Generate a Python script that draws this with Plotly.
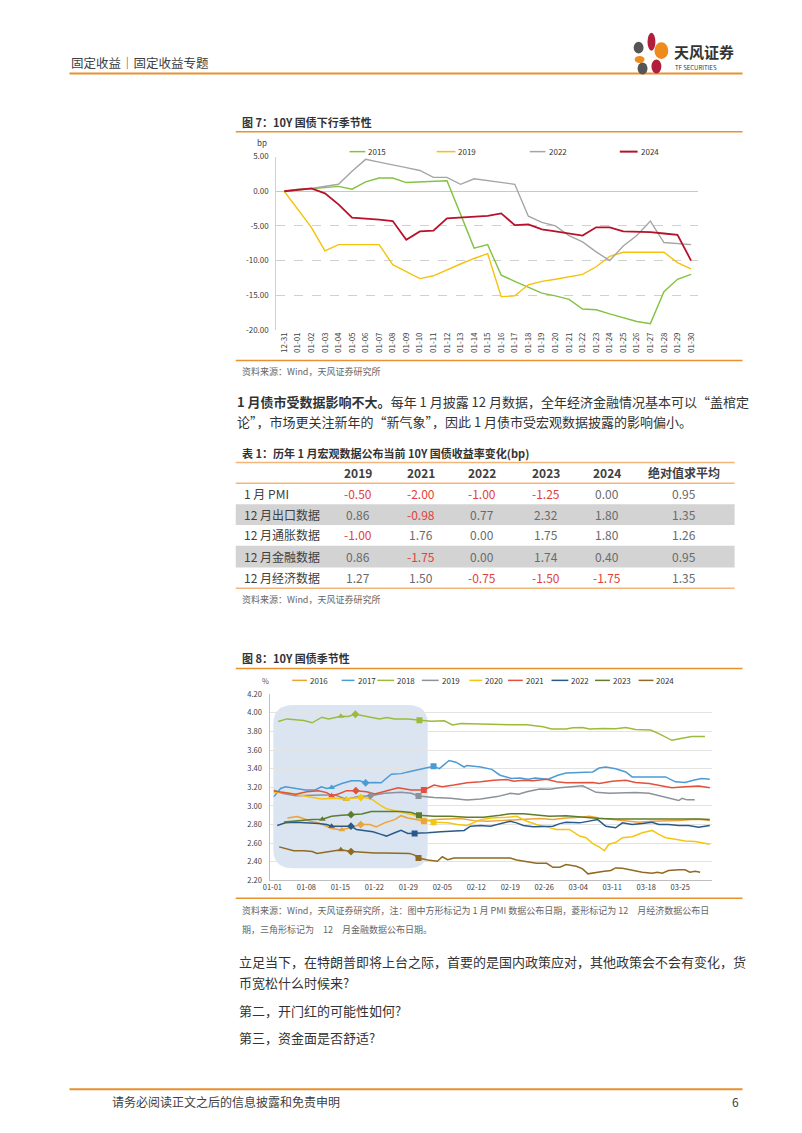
import plotly.graph_objects as go

# The page is 802x1133; the browser's default 8px body margin is compensated for by
# making the figure 16px smaller and mapping page pixels into figure paper coordinates.
PAGE_W, PAGE_H, OFF = 802, 1133, 8
W, H = PAGE_W - 2 * OFF, PAGE_H - 2 * OFF
FONT = "Noto Sans CJK SC"


def X(px):
    return (px - OFF) / W


def Y(py):
    return 1 - (py - OFF) / H


# ---------------- Figure 7 data (bp) ----------------
c7_dates = ["12-31"] + ["01-%02d" % d for d in range(1, 31)]
y2015 = [0, 0.2, 0.4, 0.6, 0.7, 0.3, 1.35, 1.9, 1.9, 1.25, 1.35, 1.45, 1.5, -3.3, -8.2, -7.7,
         -12.1, -13.0, -13.8, -14.7, -15.1, -15.6, -17.0, -17.1, -17.7, -18.3, -18.8, -19.1,
         -14.5, -12.7, -12.0]
y2019 = [0, -2.6, -5.2, -8.6, -7.7, -7.7, -7.7, -7.7, -10.6, -11.6, -12.6, -12.2, -11.3, -10.5,
         -9.7, -9.0, -15.2, -15.1, -13.5, -13.0, -12.7, -12.3, -12.0, -10.9, -9.4, -8.8, -8.8,
         -8.8, -8.8, -10.3, -11.2]
y2022 = [0, 0.3, 0.4, 0.7, 1.0, 2.9, 4.6, 4.2, 3.75, 3.4, 3.0, 2.0, 2.0, 1.0, 1.8, 1.5, 1.25,
         1.0, -3.6, -4.5, -5.0, -6.4, -7.3, -8.75, -10.0, -7.9, -6.4, -4.3, -7.4, -7.6, -7.7]
y2024 = [0, 0.2, 0.4, -0.3, -1.9, -3.8, -3.9, -4.1, -4.3, -7.0, -5.8, -5.7, -3.9, -3.8, -3.65,
         -3.55, -3.2, -4.9, -4.8, -5.5, -5.8, -6.1, -6.4, -5.2, -5.2, -5.8, -5.8, -5.9, -6.1,
         -6.3, -10.0]
c7_yticks = [5, 0, -5, -10, -15, -20]

# ---------------- Table 1 data ----------------
tbl_cols = ["2019", "2021", "2022", "2023", "2024", "绝对值求平均"]
tbl_rows = ["1 月 PMI", "12 月出口数据", "12 月通胀数据", "12 月金融数据", "12 月经济数据"]
row_pmi = [-0.50, -2.00, -1.00, -1.25, 0.00, 0.95]
row_export = [0.86, -0.98, 0.77, 2.32, 1.80, 1.35]
row_cpi = [-1.00, 1.76, 0.00, 1.75, 1.80, 1.26]
row_fin = [0.86, -1.75, 0.00, 1.74, 0.40, 0.95]
row_econ = [1.27, 1.50, -0.75, -1.50, -1.75, 1.35]

# ---------------- Figure 8 data (%; x = day of year, 0 = 01-01) ----------------
d2016 = [3.1, 5.1, 6.1, 7.8, 9.5, 11.2, 12.2, 13.6, 14.3, 16, 18.2, 20.1, 21.4, 23.1, 25.2, 26.5,
         27.9, 29.6, 31.2, 33.3, 36.1, 38.8, 41.5, 44.2, 46.9, 49.7, 52.4, 55.1, 57.8, 60.5, 63.3,
         65.3, 67.3, 70, 72.8, 75.5, 78.2, 81, 83.7, 86.4, 88.4, 90.1]
v2016 = [2.87, 2.885, 2.87, 2.835, 2.818, 2.782, 2.758, 2.747, 2.744, 2.765, 2.80, 2.80, 2.775,
         2.818, 2.853, 2.895, 2.87, 2.853, 2.835, 2.853, 2.86, 2.864, 2.842, 2.835, 2.842, 2.85,
         2.853, 2.864, 2.853, 2.87, 2.878, 2.888, 2.87, 2.853, 2.835, 2.825, 2.835, 2.835, 2.842,
         2.853, 2.853, 2.842]
d2017 = [0.3, 1.7, 2.7, 4.8, 6.8, 8.8, 10.1, 11.2, 12.2, 14.3, 16.3, 18, 19.2, 21.1, 22.4, 24.5,
         26.5, 28.6, 30.6, 33.2, 34.4, 36.4, 37.8, 39.5, 40.1, 42.9, 45.2, 46.9, 49.3, 51, 52.7,
         54.1, 56.8, 58.8, 60.5, 63.9, 66, 67.3, 68.7, 70.7, 72.8, 74.1, 77.6, 81, 83, 85, 86.7,
         88.4, 90.1]
v2017 = [3.10, 3.188, 3.206, 3.188, 3.171, 3.171, 3.206, 3.188, 3.199, 3.241, 3.27, 3.27, 3.248,
         3.252, 3.248, 3.34, 3.347, 3.372, 3.397, 3.425, 3.40, 3.488, 3.47, 3.418, 3.435, 3.418,
         3.393, 3.33, 3.294, 3.30, 3.287, 3.30, 3.287, 3.33, 3.354, 3.365, 3.365, 3.407, 3.418,
         3.40, 3.365, 3.312, 3.312, 3.312, 3.259, 3.252, 3.276, 3.294, 3.287]
d2018 = [1.2, 3, 6.5, 8.2, 10.2, 11.6, 14.1, 15.6, 17.1, 19.7, 22.1, 23.5, 25.2, 27.9, 30.3, 32.7,
         35.4, 37.1, 38.8, 42.2, 45.6, 49, 52.4, 54.1, 55.8, 57.5, 60.5, 61.9, 63.9, 65.3, 68,
         70.7, 72.8, 74.8, 77.9, 79.6, 81, 82.3, 84.4, 86.4, 89.1]
v2018 = [3.907, 3.935, 3.918, 3.893, 3.953, 3.935, 3.963, 3.96, 3.985, 3.96, 3.935, 3.95, 3.935,
         3.935, 3.92, 3.91, 3.915, 3.87, 3.885, 3.88, 3.87, 3.873, 3.873, 3.865, 3.85, 3.826,
         3.826, 3.84, 3.843, 3.826, 3.833, 3.83, 3.843, 3.82, 3.816, 3.777, 3.74, 3.705, 3.727,
         3.745, 3.745]
d2019 = [0.3, 2, 4.8, 7.5, 10.2, 12.9, 15.2, 17.7, 20.2, 23.1, 26.5, 28.6, 30.1, 33.3, 36.7, 40.1,
         42.9, 46.3, 49, 50.7, 52.4, 55.1, 57.1, 59.2, 61.9, 63.9, 65.3, 66.7, 69.4, 72.1, 74.8,
         77.6, 79.6, 81.6, 83.7, 84.4, 85.4, 87]
v2019 = [3.17, 3.135, 3.11, 3.118, 3.118, 3.118, 3.072, 3.10, 3.11, 3.135, 3.146, 3.135, 3.107,
         3.09, 3.082, 3.065, 3.075, 3.10, 3.135, 3.125, 3.153, 3.181, 3.178, 3.195, 3.206, 3.217,
         3.181, 3.146, 3.135, 3.143, 3.143, 3.135, 3.11, 3.09, 3.058, 3.082, 3.065, 3.065]
d2020 = [0.3, 2.7, 5.4, 8.2, 10.2, 12.9, 15.3, 16.3, 19, 20.7, 22.1, 23.5, 25.2, 27.2, 29.3, 30.3,
         31.3, 33.2, 36.1, 38.1, 40.1, 42.9, 45.2, 48.3, 50.3, 52.4, 54.4, 56.5, 58.5, 61.2, 63.3,
         64.6, 66, 67.3, 68.4, 69.3, 70.7, 72.1, 74.1, 76.2, 78.2, 79.6, 81, 83, 85, 87.1, 90.1]
v2020 = [3.143, 3.143, 3.118, 3.093, 3.075, 3.082, 3.072, 3.082, 3.09, 3.065, 3.012, 2.97, 2.948,
         2.924, 2.899, 2.87, 2.86, 2.825, 2.818, 2.80, 2.79, 2.853, 2.87, 2.878, 2.888, 2.835,
         2.80, 2.775, 2.747, 2.747, 2.676, 2.659, 2.595, 2.56, 2.518, 2.588, 2.606, 2.659, 2.669,
         2.712, 2.737, 2.694, 2.659, 2.641, 2.624, 2.617, 2.588]
d2021 = [0.3, 2.4, 4.8, 7.1, 9.5, 11.2, 12.2, 13.6, 15.3, 17.2, 19.4, 21.1, 23.8, 25.9, 28.6, 31.2,
         33.3, 35, 37.4, 40.1, 42.9, 45.6, 48.3, 49.7, 51.7, 53.7, 56.5, 58.5, 60.5, 63.3, 66,
         67.3, 70, 72.8, 74.8, 77.6, 80.3, 82.3, 85, 87.8, 90.1]
v2021 = [3.16, 3.143, 3.125, 3.153, 3.164, 3.143, 3.11, 3.128, 3.164, 3.164, 3.153, 3.128, 3.164,
         3.195, 3.171, 3.171, 3.224, 3.206, 3.224, 3.248, 3.259, 3.276, 3.284, 3.266, 3.276, 3.27,
         3.287, 3.259, 3.248, 3.252, 3.252, 3.241, 3.266, 3.276, 3.252, 3.241, 3.217, 3.195,
         3.206, 3.213, 3.195]
d2022 = [1, 2.7, 4.8, 7.5, 9.5, 11.2, 12.2, 14.3, 16.2, 17.3, 19, 20.7, 22.4, 23.5, 25.2, 26.5,
         27.9, 29.3, 32, 34.7, 37.4, 39.5, 40.8, 42.9, 44.9, 46.9, 49, 50.3, 51.7, 53.7, 56.5,
         57.8, 59.2, 60.5, 63.3, 65.3, 67, 68.7, 70.7, 72.1, 74.1, 76.2, 78.2, 79.6, 81.6, 83.7,
         85.7, 87.8, 90.1]
v2022 = [2.79, 2.818, 2.825, 2.818, 2.81, 2.80, 2.782, 2.782, 2.782, 2.747, 2.737, 2.722, 2.694,
         2.676, 2.712, 2.737, 2.705, 2.705, 2.712, 2.722, 2.73, 2.737, 2.782, 2.79, 2.782, 2.81,
         2.835, 2.818, 2.79, 2.775, 2.775, 2.782, 2.81, 2.825, 2.818, 2.835, 2.853, 2.782, 2.765,
         2.818, 2.80, 2.81, 2.825, 2.80, 2.80, 2.79, 2.79, 2.772, 2.79]
d2023 = [2.4, 3.7, 6.1, 8.2, 10.3, 12.2, 14.3, 16.2, 18.4, 20.4, 23.1, 26.5, 28.6, 30.2, 33.3,
         36.7, 40.1, 43.5, 46.9, 49, 51.7, 53.7, 57.1, 60.5, 63.9, 67.3, 70.7, 74.1, 77.6, 81,
         84.4, 87.8, 90.1]
v2023 = [2.828, 2.835, 2.842, 2.853, 2.857, 2.888, 2.899, 2.906, 2.913, 2.941, 2.941, 2.941, 2.93,
         2.899, 2.888, 2.888, 2.878, 2.878, 2.899, 2.917, 2.917, 2.906, 2.888, 2.895, 2.881,
         2.864, 2.86, 2.86, 2.86, 2.864, 2.864, 2.86, 2.853]
d2024 = [1.4, 3.1, 4.4, 6.5, 8.2, 9.2, 10.5, 11.9, 14.1, 16.2, 18.4, 21.1, 23.1, 25.9, 28.2, 29.3,
         30.1, 32, 33.3, 34, 35, 36.1, 37.4, 40.1, 43.5, 46.9, 49, 50.3, 52.4, 54.4, 56.5, 57.8,
         59.2, 60.5, 62.6, 63.9, 65, 66.7, 68, 69.7, 70.7, 72.1, 74.1, 76.2, 78.2, 79.3, 80.3,
         81.6, 83.7, 85, 86, 87.1, 88.1]
v2024 = [2.56, 2.535, 2.518, 2.518, 2.51, 2.49, 2.50, 2.518, 2.528, 2.51, 2.50, 2.493, 2.493,
         2.493, 2.49, 2.472, 2.44, 2.419, 2.405, 2.405, 2.454, 2.422, 2.44, 2.44, 2.44, 2.44,
         2.44, 2.419, 2.405, 2.384, 2.384, 2.341, 2.341, 2.37, 2.352, 2.324, 2.27, 2.28, 2.295,
         2.306, 2.334, 2.33, 2.306, 2.288, 2.278, 2.288, 2.278, 2.306, 2.313, 2.313, 2.288,
         2.299, 2.288]

# data-release markers: [12月金融 (triangle), 12月经济 (diamond), 1月PMI (square)]
mk_days = {
    "2016": [14.3, 18.2, 31.2], "2017": [12.2, 19.2, 33.2], "2018": [14.1, 17.1, 30.3],
    "2019": [15.2, 20.2, 30.1], "2020": [15.3, 18.2, 33.2], "2021": [12.2, 17.2, 31.2],
    "2022": [12.2, 16.2, 29.3], "2023": [10.3, 16.2, 30.2], "2024": [14.1, 16.2, 30.1],
}
mk_vals = {
    "2016": [2.744, 2.80, 2.835], "2017": [3.199, 3.248, 3.425], "2018": [3.963, 3.985, 3.92],
    "2019": [3.072, 3.11, 3.107], "2020": [3.072, 3.09, 2.825], "2021": [3.11, 3.164, 3.171],
    "2022": [2.782, 2.782, 2.705], "2023": [2.857, 2.906, 2.899], "2024": [2.528, 2.51, 2.44],
}
c8_tickdays = [0, 7, 14, 21, 28, 35, 42, 49, 56, 63, 70, 77, 84]
c8_ticklabels = ["01-01", "01-08", "01-15", "01-22", "01-29", "02-05", "02-12", "02-19",
                 "02-26", "03-04", "03-11", "03-18", "03-25"]

# ---------------- styling ----------------
ORANGE = "#e8912e"
ORANGE_L = "#f3b57a"
TXT = "#333333"
GRAY_T = "#666666"

c7_series = [("2015", y2015, "#82c341", 1.4), ("2019", y2019, "#f4c20d", 1.4),
             ("2022", y2022, "#a5a5a5", 1.4), ("2024", y2024, "#b8112a", 1.8)]
c8_series = [("2016", d2016, v2016, "#eba43a"), ("2017", d2017, v2017, "#4b9bd5"),
             ("2018", d2018, v2018, "#9dbb3a"), ("2019", d2019, v2019, "#8a929a"),
             ("2020", d2020, v2020, "#f5c514"), ("2021", d2021, v2021, "#e2513c"),
             ("2022", d2022, v2022, "#2a5a8a"), ("2023", d2023, v2023, "#5e7d2c"),
             ("2024", d2024, v2024, "#8f6a20")]

fig = go.Figure()

xi = list(range(len(c7_dates)))
for name, vals, col, w in c7_series:
    fig.add_trace(go.Scatter(x=xi, y=vals, mode="lines", name=name, showlegend=False,
                             line=dict(color=col, width=w), xaxis="x", yaxis="y",
                             hoverinfo="skip"))

symbols = ["triangle-up", "diamond", "square"]
for name, dd, vv, col in c8_series:
    fig.add_trace(go.Scatter(x=dd, y=vv, mode="lines", name=name, showlegend=False,
                             line=dict(color=col, width=1.5), xaxis="x2", yaxis="y2",
                             hoverinfo="skip"))
for name, dd, vv, col in c8_series:
    fig.add_trace(go.Scatter(x=mk_days[name], y=mk_vals[name], mode="markers", showlegend=False,
                             marker=dict(symbol=symbols, size=6, color=col),
                             xaxis="x2", yaxis="y2", hoverinfo="skip"))

shapes = []
annots = []


def hline(x0, x1, y, color, width=1):
    shapes.append(dict(type="line", xref="paper", yref="paper", x0=X(x0), x1=X(x1),
                       y0=Y(y), y1=Y(y), line=dict(color=color, width=width)))


def rect(x0, x1, y0, y1, fill):
    shapes.append(dict(type="rect", xref="paper", yref="paper", x0=X(x0), x1=X(x1),
                       y0=Y(y1), y1=Y(y0), fillcolor=fill, line=dict(width=0), layer="below"))


def txt(s, x, y, size=12, color=TXT, anchor="left"):
    annots.append(dict(text=s, x=X(x), y=Y(y), xref="paper", yref="paper", xanchor=anchor,
                       yanchor="middle", showarrow=False,
                       font=dict(size=size, color=color, family=FONT)))


def ell(cx, cy, rx, ry, color):
    shapes.append(dict(type="circle", xref="paper", yref="paper", x0=X(cx - rx), x1=X(cx + rx),
                       y0=Y(cy + ry), y1=Y(cy - ry), fillcolor=color, line=dict(width=0)))


# header
txt("固定收益｜固定收益专题", 62, 57, 12.5, "#404040")
hline(62, 742, 68, ORANGE, 2)
ell(650, 36, 4, 9, "#b01e3c")
ell(660, 45, 7, 8.5, "#ef8a1c")
ell(637, 42, 5, 6, "#555555")
ell(638, 54, 5, 3.5, "#ef8a1c")
ell(641, 63, 5, 6, "#555555")
ell(655, 61, 5, 7, "#b01e3c")
txt("<b>天风证券</b>", 671, 46, 15, "#333333")
txt("TF SECURITIES", 672, 62.5, 6, "#333333")

# figure 7 frame
txt("<b>图 7：10Y 国债下行季节性</b>", 234, 117, 11, TXT)
hline(230, 742, 127, ORANGE, 1.5)
txt("bp", 249, 138, 8, "#404040")
leg7 = [(345, 361), (433, 452), (527, 543), (618, 636)]
for (lx0, lx1), (name, vals, col, w) in zip(leg7, c7_series):
    hline(lx0, lx1, 147, col, 1.5 if w < 1.6 else 2)
    txt(name, lx1 + 1, 147, 8, "#333333")
hline(230, 742, 358, ORANGE, 1.5)
txt("资料来源：Wind，天风证券研究所", 234, 369, 9, GRAY_T)

# paragraph
txt("<b>1 月债市受数据影响不大。</b>每年 1 月披露 12 月数据，全年经济金融情况基本可以“盖棺定", 229, 399, 13, TXT)
txt("论”，市场更关注新年的“新气象”，因此 1 月债市受宏观数据披露的影响偏小。", 229, 420, 13, TXT)

# table 1
txt("<b>表 1：历年 1 月宏观数据公布当前 10Y 国债收益率变化(bp)</b>", 234, 451, 11, TXT)
hline(230, 734, 461, ORANGE_L, 1.5)
col_x = [354, 417, 479, 543, 605, 683]
row_y = [492, 513, 534, 556, 577]
for cx, cname in zip(col_x, tbl_cols):
    txt("<b>" + cname + "</b>", cx, 471, 12, "#404040", "center")
hline(230, 734, 482, ORANGE_L, 1.5)
rect(230, 734, 503, 524, "#d3d3d3")
rect(230, 734, 545, 567, "#d3d3d3")
for ry, rname, rvals in zip(row_y, tbl_rows, [row_pmi, row_export, row_cpi, row_fin, row_econ]):
    txt(rname, 236, ry, 12, "#404040")
    for cx, v in zip(col_x, rvals):
        txt("%.2f" % v, cx, ry, 12, "#e2413a" if v < 0 else "#6a6a6a", "center")
hline(230, 734, 588, ORANGE_L, 1.5)
txt("资料来源：Wind，天风证券研究所", 234, 599, 9, GRAY_T)

# figure 8 frame
txt("<b>图 8：10Y 国债季节性</b>", 234, 658, 11, TXT)
hline(230, 742, 669, ORANGE, 1.5)
txt("%", 255, 681, 7.5, "#555555")
leg8 = [(287, 302), (337, 350), (373, 390), (418, 435), (466, 479), (505, 520), (549, 566),
        (593, 608), (637, 652)]
for (lx0, lx1), (name, dd, vv, col) in zip(leg8, c8_series):
    hline(lx0, lx1, 681, col, 1.5)
    txt(name, lx1 + 1, 681, 8, "#333333")
hline(230, 742, 901, ORANGE, 1.5)
txt("资料来源：Wind，天风证券研究所，注：图中方形标记为 1 月 PMI 数据公布日期，菱形标记为 12　月经济数据公布日",
    234, 913, 9, GRAY_T)
txt("期，三角形标记为　12　月金融数据公布日期。", 234, 933, 9, GRAY_T)

# shaded window on chart 8 (rounded rectangle, data coords)
bx0, bx1, by0, by1, rx, ry = 0.2, 32.0, 2.33, 4.085, 4.2, 0.2
path = (f"M {bx0 + rx},{by1} L {bx1 - rx},{by1} Q {bx1},{by1} {bx1},{by1 - ry} "
        f"L {bx1},{by0 + ry} Q {bx1},{by0} {bx1 - rx},{by0} L {bx0 + rx},{by0} "
        f"Q {bx0},{by0} {bx0},{by0 + ry} L {bx0},{by1 - ry} Q {bx0},{by1} {bx0 + rx},{by1} Z")
shapes.append(dict(type="path", xref="x2", yref="y2", path=path, fillcolor="#d6e2f0",
                   line=dict(width=0), layer="below", opacity=0.9))

# body text
txt("立足当下，在特朗普即将上台之际，首要的是国内政策应对，其他政策会不会有变化，货", 231, 965, 13, TXT)
txt("币宽松什么时候来?", 231, 986, 13, TXT)
txt("第二，开门红的可能性如何?", 231, 1014, 13, TXT)
txt("第三，资金面是否舒适?", 231, 1042, 13, TXT)

# footer
hline(62, 742, 1094, ORANGE, 2)
txt("请务必阅读正文之后的信息披露和免责申明", 103, 1106, 12, "#404040")
txt("6", 740, 1106, 12, "#404040", "right")

# axes
px7 = 13.7        # pixels per category on figure 7
px8 = 4.905       # pixels per day on figure 8
fig.update_layout(
    width=W, height=H, margin=dict(l=0, r=0, t=0, b=0), autosize=False,
    paper_bgcolor="white", plot_bgcolor="rgba(0,0,0,0)",
    font=dict(family=FONT, color="#404040"),
    shapes=shapes, annotations=annots, showlegend=False,
    xaxis=dict(domain=[X(271), X(697)], range=[-(279 - 271) / px7, 30 + (697 - 690) / px7],
               tickvals=xi, ticktext=c7_dates, tickangle=-90, tickfont=dict(size=8),
               showgrid=False, zeroline=False, showline=False, ticks="", fixedrange=True),
    yaxis=dict(domain=[Y(327), Y(152)], range=[-20, 5], tickvals=c7_yticks,
               ticktext=["%.2f" % v if v >= 0 else "-%.2f" % abs(v) for v in c7_yticks],
               tickfont=dict(size=8), showgrid=True, gridcolor="#d0d0d0", griddash="dash",
               gridwidth=1, zeroline=True, zerolinecolor="#c8c8c8", zerolinewidth=1,
               showline=True, linecolor="#d0d0d0", ticks="", ticklabelstandoff=5,
               fixedrange=True),
    xaxis2=dict(domain=[X(265), X(711)], range=[-(267 - 265) / px8, (711 - 267) / px8],
                tickvals=c8_tickdays, ticktext=c8_ticklabels, tickfont=dict(size=7.5),
                showgrid=False, zeroline=False, showline=True, linecolor="#bfbfbf", ticks="",
                anchor="y2", fixedrange=True),
    yaxis2=dict(domain=[Y(883), Y(695)], range=[2.2, 4.2], dtick=0.2, tickformat=".2f",
                tickfont=dict(size=7.5), showgrid=True, gridcolor="#e3e3e3", zeroline=False,
                showline=True, linecolor="#bfbfbf", ticks="", anchor="x2",
                ticklabelstandoff=6, fixedrange=True),
)

fig.write_html("out.html", config={"displayModeBar": False})
